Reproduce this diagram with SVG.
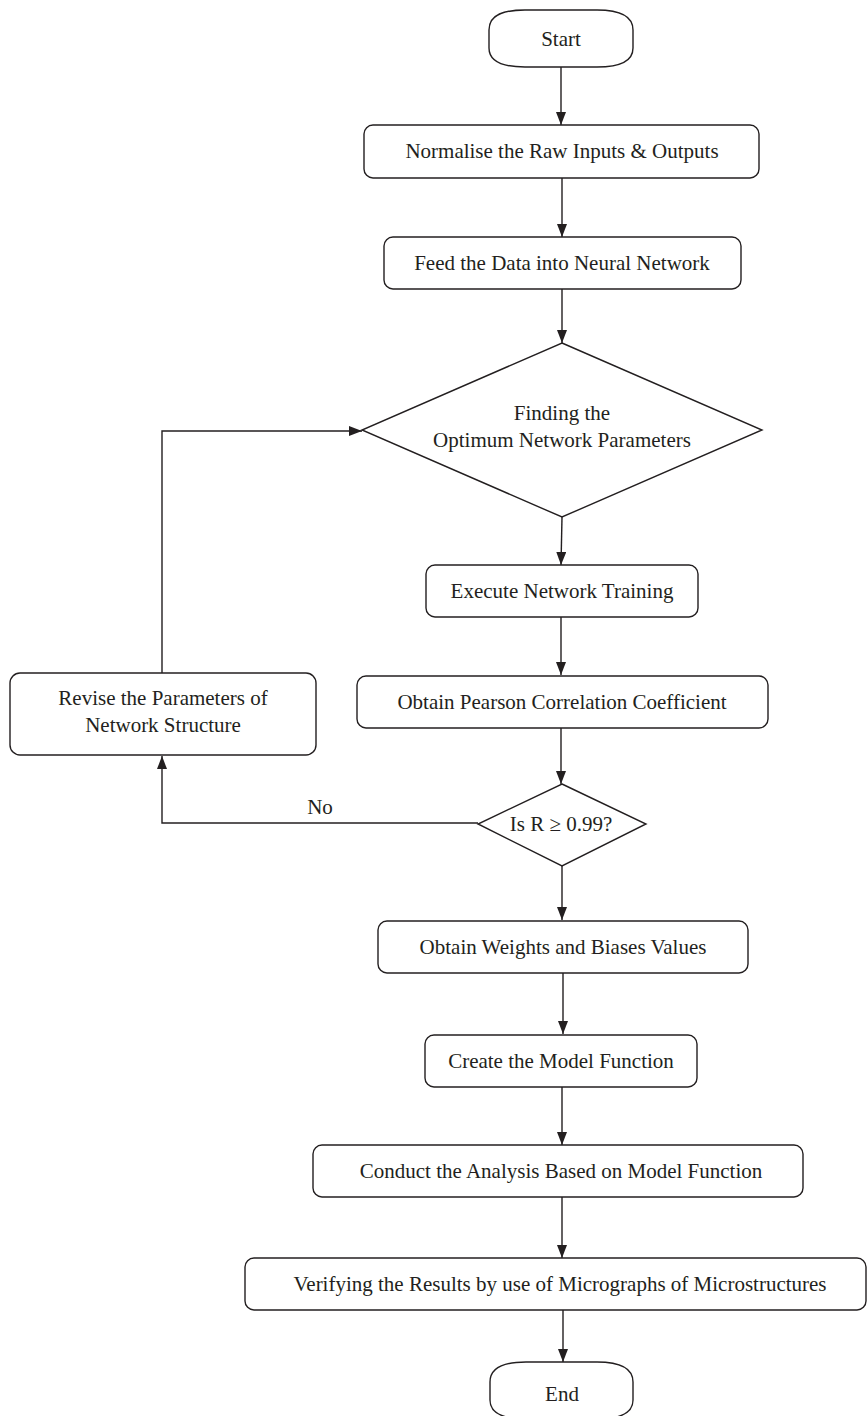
<svg xmlns="http://www.w3.org/2000/svg" width="868" height="1416" viewBox="0 0 868 1416">
<style>
.shape{fill:#fff;stroke:#231f20;stroke-width:1.4}
.t{font-family:"Liberation Serif","Times New Roman",serif;font-size:21px;fill:#231f20;text-anchor:middle}
.c{fill:none;stroke:#231f20;stroke-width:1.4}
</style>
<defs>
<marker id="ah" markerUnits="userSpaceOnUse" markerWidth="14" markerHeight="10" refX="13" refY="5" orient="auto">
<path d="M0,0 L13,5 L0,10 Z" fill="#231f20"/>
</marker>
</defs>
<rect width="868" height="1416" fill="#fff"/>
<g id="connectors">
<path class="c" d="M561,67 L561,125" marker-end="url(#ah)"/>
<path class="c" d="M562,178 L562,237" marker-end="url(#ah)"/>
<path class="c" d="M562,289 L562,343" marker-end="url(#ah)"/>
<path class="c" d="M562,517 L561,565" marker-end="url(#ah)"/>
<path class="c" d="M561,617 L561,675" marker-end="url(#ah)"/>
<path class="c" d="M561,728 L561,784" marker-end="url(#ah)"/>
<path class="c" d="M562,866 L562,920" marker-end="url(#ah)"/>
<path class="c" d="M563,973 L563,1034" marker-end="url(#ah)"/>
<path class="c" d="M562,1087 L562,1145" marker-end="url(#ah)"/>
<path class="c" d="M562,1197 L562,1258" marker-end="url(#ah)"/>
<path class="c" d="M563,1310 L563,1362" marker-end="url(#ah)"/>
<path class="c" d="M478,823 L162,823 L162,756" marker-end="url(#ah)"/>
<path class="c" d="M162,673 L162,431 L362,431" marker-end="url(#ah)"/>
<text class="t" x="320" y="814">No</text>
</g>
<g id="start">
<path class="shape" d="M489,30 C489,14 505,10 525,10 L597,10 C617,10 633,14 633,30 L633,48 C633,63 617,67 597,67 L525,67 C505,67 489,63 489,48 Z"/>
<text class="t" x="561" y="46">Start</text>
</g>
<g id="normalise">
<rect class="shape" x="364" y="125" width="395" height="53" rx="9"/>
<text class="t" x="562" y="158">Normalise the Raw Inputs &amp; Outputs</text>
</g>
<g id="feed">
<rect class="shape" x="384" y="237" width="357" height="52" rx="9"/>
<text class="t" x="562" y="270">Feed the Data into Neural Network</text>
</g>
<g id="finding">
<polygon class="shape" points="562,343 762,430 562,517 362,430"/>
<text class="t" x="562" y="420">Finding the</text>
<text class="t" x="562" y="447">Optimum Network Parameters</text>
</g>
<g id="execute">
<rect class="shape" x="426" y="565" width="272" height="52" rx="9"/>
<text class="t" x="562" y="598">Execute Network Training</text>
</g>
<g id="pearson">
<rect class="shape" x="357" y="676" width="411" height="52" rx="9"/>
<text class="t" x="562" y="709">Obtain Pearson Correlation Coefficient</text>
</g>
<g id="revise">
<rect class="shape" x="10" y="673" width="306" height="82" rx="10"/>
<text class="t" x="163" y="705">Revise the Parameters of</text>
<text class="t" x="163" y="732">Network Structure</text>
</g>
<g id="check">
<polygon class="shape" points="562,784 646,824 562,866 478,824"/>
<text class="t" x="561" y="831">Is R ≥ 0.99?</text>
</g>
<g id="weights">
<rect class="shape" x="378" y="921" width="370" height="52" rx="9"/>
<text class="t" x="563" y="954">Obtain Weights and Biases Values</text>
</g>
<g id="model">
<rect class="shape" x="425" y="1035" width="272" height="52" rx="9"/>
<text class="t" x="561" y="1068">Create the Model Function</text>
</g>
<g id="conduct">
<rect class="shape" x="313" y="1145" width="490" height="52" rx="9"/>
<text class="t" x="561" y="1178">Conduct the Analysis Based on Model Function</text>
</g>
<g id="verify">
<rect class="shape" x="245" y="1258" width="621" height="52" rx="9"/>
<text class="t" x="560" y="1291">Verifying the Results by use of Micrographs of Microstructures</text>
</g>
<g id="end">
<path class="shape" d="M490,1382 C490,1366 506,1362 526,1362 L597,1362 C617,1362 633,1366 633,1382 L633,1400 C633,1415 617,1419 597,1419 L526,1419 C506,1419 490,1415 490,1400 Z"/>
<text class="t" x="562" y="1401">End</text>
</g>
</svg>
